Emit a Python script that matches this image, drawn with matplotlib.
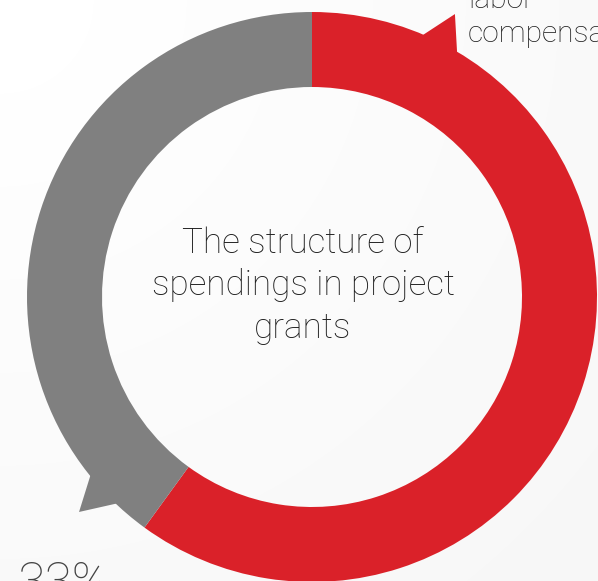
import numpy as np
import matplotlib.pyplot as plt
from matplotlib.patches import Wedge, Polygon

plt.rcParams['font.family'] = ['Roboto', 'DejaVu Sans']

# data
segments = ['labor compensation', 'other spendings']
shares = [60, 40]
colors = ['#da2129', '#808080']
title_lines = ['The structure of', 'spendings in project', 'grants']
top_label_lines = ['labor', 'compensation']
bottom_label = '33%'

W, H = 598, 581
fig = plt.figure(figsize=(W / 100, H / 100), dpi=100)
ax = fig.add_axes([0, 0, 1, 1])

# faint grey wash towards the lower right
yy, xx = np.mgrid[0:H, 0:W]
bg = 1 - 0.035 * np.hypot(xx, yy) / np.hypot(W, H)
ax.imshow(bg, cmap='gray', vmin=0, vmax=1, extent=(0, W, 0, H), aspect='auto', zorder=0)

ax.set_xlim(0, W)
ax.set_ylim(0, H)
ax.axis('off')

cx, cy = 312, 284
r_out, ring = 285, 75

# ring, clockwise from 12 o'clock
start = 90
for share, color in zip(shares, colors):
    sweep = 360 * share / sum(shares)
    ax.add_patch(Wedge((cx, cy), r_out, start - sweep, start, width=ring,
                       facecolor=color, edgecolor='none', zorder=2))
    start -= sweep


def pointer(angle, color, half=4.2, tip_r=317):
    a0, a1, am = np.radians([angle - half, angle + half, angle])
    pts = [(cx + (r_out - 3) * np.cos(a0), cy + (r_out - 3) * np.sin(a0)),
           (cx + tip_r * np.cos(am), cy + tip_r * np.sin(am)),
           (cx + (r_out - 3) * np.cos(a1), cy + (r_out - 3) * np.sin(a1))]
    ax.add_patch(Polygon(pts, closed=True, facecolor=color, edgecolor='none', zorder=2))


pointer(63.2, colors[0])
pointer(222.7, colors[1])

# centre title
for i, line in enumerate(title_lines):
    ax.text(303, H - 253 - 42.5 * i, line, ha='center', va='baseline',
            fontsize=25.2, fontweight='light', color='#1e1e1e', zorder=3)

# callout labels (run off the edge like the original)
for i, line in enumerate(top_label_lines):
    ax.text(468, H - 8 - 34 * i, line, ha='left', va='baseline',
            fontsize=21.6, fontweight='light', color='#1e1e1e', zorder=3)

ax.text(17, H - 598, bottom_label, ha='left', va='baseline',
        fontsize=36, fontweight='light', color='#444444', zorder=3)

fig.savefig('out.png', dpi=100)
